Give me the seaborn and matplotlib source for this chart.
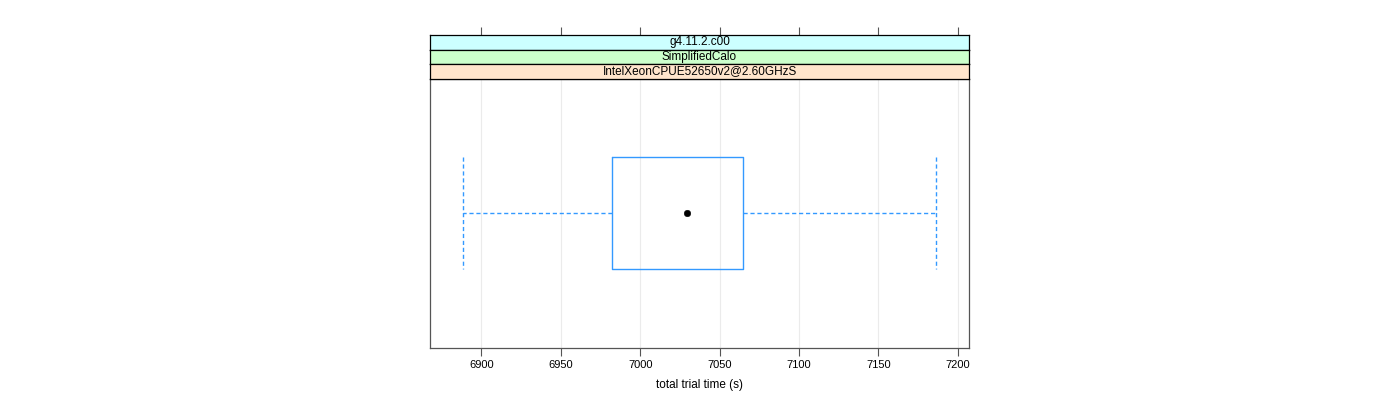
import numpy as np
import pandas as pd
import matplotlib
matplotlib.use("Agg")
import matplotlib.pyplot as plt
import seaborn as sns

# Data: five-number summary of total trial time
trial_times = [6888.5, 6982.5, 7029.5, 7064.8, 7186.5]
strip_labels = ["g4.11.2.c00", "SimplifiedCalo", "IntelXeonCPUE52650v2@2.60GHzS"]
strip_colors = ["#ccffff", "#ccffcc", "#ffe5cc"]
x_ticks = [6900, 6950, 7000, 7050, 7100, 7150, 7200]
x_label = "total trial time (s)"

sns.set_theme(style="white")
plt.rcParams["font.family"] = ["Liberation Sans", "DejaVu Sans"]

W, H = 1400, 400
fig = plt.figure(figsize=(W / 100, H / 100), dpi=100)

px_l, px_r = 430, 969
py_top_panel, py_bot = 78.7, 348
strip_h = 14.5
frame_col = "#555555"
blue = "#3399ff"

ax = fig.add_axes([px_l / W, 1 - py_bot / H, (px_r - px_l) / W, (py_bot - py_top_panel) / H])

df = pd.DataFrame({"time": trial_times, "grp": ["a"] * len(trial_times)})
sns.boxplot(
    data=df, x="time", y="grp", ax=ax, orient="h", width=0.5, whis=(0, 100),
    fill=False, color=blue, linewidth=1.0, showfliers=False,
    boxprops=dict(color=blue, linewidth=1.0),
    whiskerprops=dict(color=blue, linestyle=(0, (3, 2)), linewidth=1.0),
    capprops=dict(color=blue, linestyle=(0, (3, 2)), linewidth=1.0),
    medianprops=dict(visible=False),
    capwidths=0.5,
)
med = float(np.median(trial_times))
sns.scatterplot(x=[med], y=["a"], ax=ax, color="black", s=22, edgecolor="black", zorder=5)

xlim = (6867.6, 7207.1)
ax.set_xlim(*xlim)
ax.set_ylim(0.6, -0.6)
ax.set_xticks(x_ticks)
ax.set_xticklabels([str(t) for t in x_ticks], fontsize=8, color="black")
ax.set_yticks([])
ax.set_ylabel("")
ax.set_xlabel(x_label, fontsize=8.5, color="black", labelpad=6)
ax.grid(axis="x", color="#ebebeb", linewidth=0.8)
ax.set_axisbelow(True)
ax.tick_params(axis="x", direction="out", length=6, width=0.8, color=frame_col, pad=3, bottom=True)
for s in ax.spines.values():
    s.set_color(frame_col)
    s.set_linewidth(0.9)

# strips (top to bottom)
for i, (lab, col) in enumerate(zip(strip_labels, strip_colors)):
    top = py_top_panel - strip_h * (len(strip_labels) - i)
    sax = fig.add_axes([px_l / W, 1 - (top + strip_h) / H, (px_r - px_l) / W, strip_h / H])
    sax.set_facecolor(col)
    sax.set_xlim(*xlim)
    sax.set_ylim(0, 1)
    sax.set_yticks([])
    if i == 0:
        sax.set_xticks(x_ticks)
        sax.xaxis.tick_top()
        sax.tick_params(axis="x", direction="out", length=6, width=0.8, color=frame_col,
                        labeltop=False, labelbottom=False, top=True, bottom=False)
    else:
        sax.set_xticks([])
    sax.text(0.5, 0.5, lab, transform=sax.transAxes, ha="center", va="center",
             fontsize=8.5, color="black")
    for s in sax.spines.values():
        s.set_color("black")
        s.set_linewidth(0.9)

fig.savefig("out.png", dpi=100, facecolor="white")
